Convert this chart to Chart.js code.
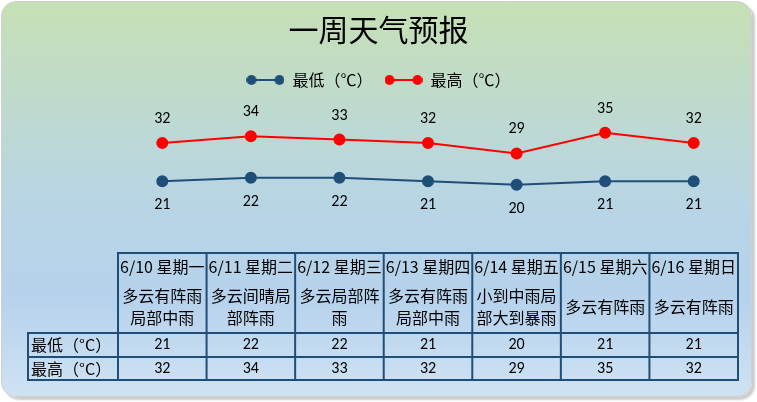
<!DOCTYPE html>
<html>
<head>
<meta charset="utf-8">
<script src="https://cdn.jsdelivr.net/npm/chart.js@4"></script>
<style>
html, body { margin: 0; padding: 0; background: #fff; }
#wrap { position: relative; width: 757px; height: 402px; }
#bg {
    position: absolute; left: 1px; top: 1px; width: 749px; height: 394px;
    border: 1px solid #d0d0d0; border-radius: 15px;
    box-shadow: 3px 3px 2px #cdcdcd;
    background: linear-gradient(#c6e0b4, #b8d5e4 50%, #b6d2ec 75%, #cfe2f3);
}
canvas { position: absolute; left: 0; top: 0; }
</style>
</head>
<body>
<div id="wrap"><div id="bg"></div><canvas id="Chart" width="757" height="402"></canvas></div>
<script>
// data
var dates = ['6/10', '6/11', '6/12', '6/13', '6/14', '6/15', '6/16'];
var weekdays = ['星期一', '星期二', '星期三', '星期四', '星期五', '星期六', '星期日'];
var weather = ['多云有阵雨局部中雨', '多云间晴局部阵雨', '多云局部阵雨', '多云有阵雨局部中雨',
               '小到中雨局部大到暴雨', '多云有阵雨', '多云有阵雨'];
var lowTemp = [21, 22, 22, 21, 20, 21, 21];
var highTemp = [32, 34, 33, 32, 29, 35, 32];
var seriesNames = ['最低（℃）', '最高（℃）'];
var rowNames = ['最低（°C）', '最高（°C）'];

var CJK = '"Noto Sans CJK SC", sans-serif';
var NUM = 'Carlito, Lato, "Noto Sans", sans-serif';
var colors = ['#1f4e79', '#ff0000'];

function legendMarker(color) {
    var c = document.createElement('canvas');
    c.width = 38; c.height = 12;
    var g = c.getContext('2d');
    g.strokeStyle = color; g.lineWidth = 2;
    g.beginPath(); g.moveTo(5, 6); g.lineTo(33, 6); g.stroke();
    g.fillStyle = color;
    [5, 33].forEach(function (cx) {
        g.beginPath(); g.arc(cx, 6, 5, 0, Math.PI * 2); g.fill();
    });
    return c;
}
var markers = [legendMarker(colors[0]), legendMarker(colors[1])];

// value labels above / below the points
var valueLabels = {
    id: 'valueLabels',
    afterDatasetsDraw: function (chart) {
        var ctx = chart.ctx;
        ctx.save();
        ctx.font = '16px ' + NUM;
        ctx.fillStyle = '#000';
        ctx.textAlign = 'center';
        ctx.textBaseline = 'middle';
        chart.data.datasets.forEach(function (ds, d) {
            var off = d == 0 ? 24 : -24;
            chart.getDatasetMeta(d).data.forEach(function (pt, i) {
                ctx.fillText(ds.data[i], pt.x, pt.y + off);
            });
        });
        ctx.restore();
    }
};

function wrapText(ctx, text, maxW) {
    var lines = [], cur = '';
    for (var i = 0; i < text.length; i++) {
        if (ctx.measureText(cur + text[i]).width > maxW && cur) {
            lines.push(cur); cur = text[i];
        } else cur += text[i];
    }
    if (cur) lines.push(cur);
    return lines;
}

// data table under the chart, columns taken from the x scale
var weatherTable = {
    id: 'weatherTable',
    afterDraw: function (chart) {
        var ctx = chart.ctx, xs = chart.scales.x, area = chart.chartArea;
        var n = dates.length;
        var step = xs.getPixelForValue(1) - xs.getPixelForValue(0);
        var left = xs.getPixelForValue(0) - step / 2;
        var right = xs.getPixelForValue(n - 1) + step / 2;
        var top = area.bottom - 1, headH = 80, rowH = 24;
        var labelLeft = left - 90;
        var rows = [top + headH, top + headH + rowH, top + headH + rowH * 2 - 1];

        ctx.save();
        ctx.strokeStyle = '#1f4e79';
        ctx.lineWidth = 2;
        ctx.beginPath();
        ctx.moveTo(left, top); ctx.lineTo(right, top);
        rows.forEach(function (y) { ctx.moveTo(labelLeft, y); ctx.lineTo(right, y); });
        for (var i = 0; i <= n; i++) {
            var xx = left + i * step;
            ctx.moveTo(xx, top - 1); ctx.lineTo(xx, rows[2] + 1);
        }
        ctx.moveTo(labelLeft, rows[0] - 1); ctx.lineTo(labelLeft, rows[2] + 1);
        ctx.stroke();

        ctx.fillStyle = '#000';
        ctx.textAlign = 'center';
        ctx.textBaseline = 'middle';
        for (var i = 0; i < n; i++) {
            var cx = xs.getPixelForValue(i);
            ctx.font = '16px ' + CJK;
            ctx.fillText(dates[i] + ' ' + weekdays[i], cx, top + 14, step - 2);
            var lines = wrapText(ctx, weather[i], step - 4);
            var cy = top + 54 - (lines.length - 1) * 11;
            lines.forEach(function (l, k) { ctx.fillText(l, cx, cy + k * 22); });
            ctx.font = '16px ' + NUM;
            ctx.fillText(lowTemp[i], cx, rows[0] + 12);
            ctx.fillText(highTemp[i], cx, rows[1] + 12);
        }
        ctx.textAlign = 'left';
        ctx.font = '16px ' + CJK;
        ctx.fillText(rowNames[0], labelLeft + 3, rows[0] + 12);
        ctx.fillText(rowNames[1], labelLeft + 3, rows[1] + 12);
        ctx.restore();
    }
};

var Data = {
    labels: dates.map(function (d, i) { return d + ' ' + weekdays[i]; }),
    datasets: [{
        label: seriesNames[0],
        data: lowTemp,
        borderColor: colors[0],
        backgroundColor: colors[0],
        borderWidth: 2,
        pointRadius: 5,
        pointHoverRadius: 5
    }, {
        label: seriesNames[1],
        data: highTemp,
        borderColor: colors[1],
        backgroundColor: colors[1],
        borderWidth: 2,
        pointRadius: 5,
        pointHoverRadius: 5
    }]
};

// invisible axes that only reserve room left / right of the plot
function spacer(pos, w) {
    return {
        display: true, position: pos, min: 0, max: 45,
        ticks: { display: false }, grid: { display: false }, border: { display: false },
        afterFit: function (s) { s.width = w; }
    };
}

var Chart1 = new Chart(document.getElementById('Chart').getContext('2d'), {
    type: 'line',
    data: Data,
    plugins: [valueLabels, weatherTable],
    options: {
        responsive: false,
        animation: false,
        layout: { padding: { left: 0, right: 0, top: 0, bottom: 148 } },
        plugins: {
            tooltip: { enabled: false },
            title: {
                display: true,
                text: '一周天气预报',
                color: '#000',
                font: { size: 30, family: CJK, weight: 'normal' },
                padding: { top: 12, bottom: 12 }
            },
            legend: {
                display: true,
                position: 'top',
                labels: {
                    usePointStyle: true,
                    pointStyleWidth: 38,
                    boxHeight: 12,
                    color: '#000',
                    font: { size: 16, family: CJK },
                    padding: 12,
                    generateLabels: function (chart) {
                        return chart.data.datasets.map(function (ds, i) {
                            return {
                                text: ds.label,
                                pointStyle: markers[i],
                                fontColor: '#000',
                                lineWidth: 0,
                                hidden: false,
                                datasetIndex: i
                            };
                        });
                    }
                }
            }
        },
        scales: {
            x: { display: false, offset: true },
            y: spacer('left', 118),
            y1: spacer('right', 19)
        }
    }
});
</script>
</body>
</html>
